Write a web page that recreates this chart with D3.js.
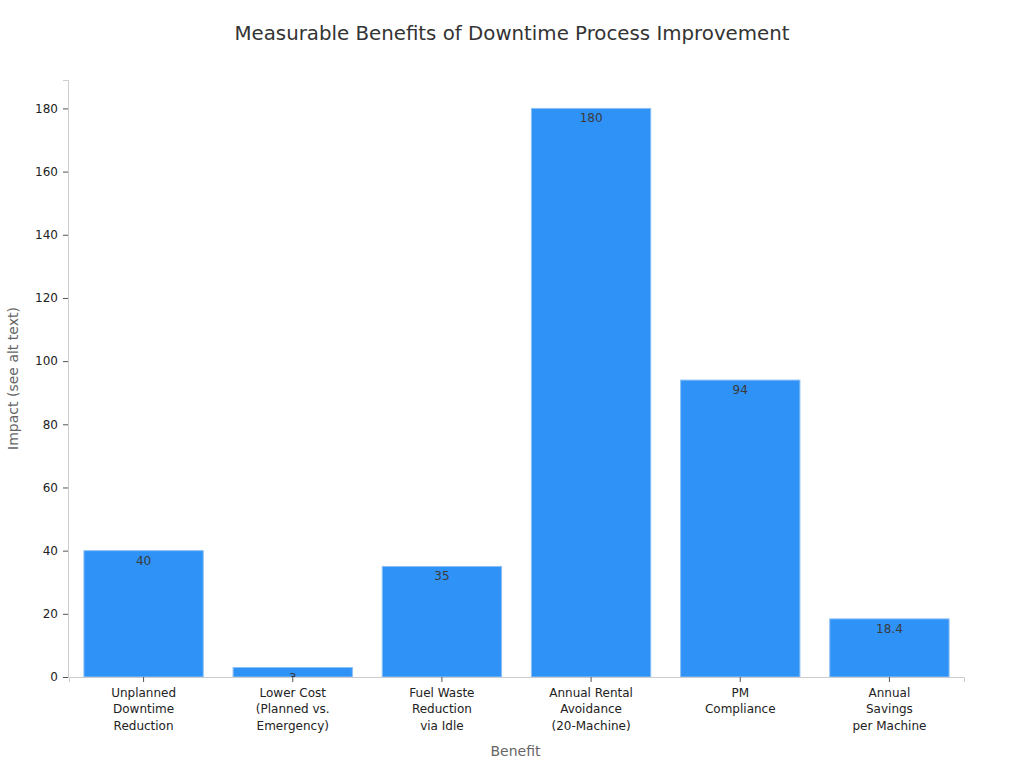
<!DOCTYPE html>
<html>
<head>
<meta charset="utf-8">
<script src="https://cdn.jsdelivr.net/npm/d3@7"></script>
<style>
    body { margin: 0; background: #fff; font-family: "DejaVu Sans", sans-serif; }
    .axis path, .axis line { stroke: #ccc; }
    .axis .tick line { stroke: #555; }
    .axis text { fill: #222; font-size: 12px; font-family: "DejaVu Sans", sans-serif; }
</style>
</head>
<body>
<svg id="chart" width="1024" height="768"></svg>
<script>
var CATEGORIES = [
    ["Unplanned", "Downtime", "Reduction"],
    ["Lower Cost", "(Planned vs.", "Emergency)"],
    ["Fuel Waste", "Reduction", "via Idle"],
    ["Annual Rental", "Avoidance", "(20-Machine)"],
    ["PM", "Compliance"],
    ["Annual", "Savings", "per Machine"]
];
var VALUES = [40, 3, 35, 180, 94, 18.4];
var VALUE_LABELS = ["40", "3", "35", "180", "94", "18.4"];
var Y_TICKS = [0, 20, 40, 60, 80, 100, 120, 140, 160, 180];

var svg = d3.select("#chart");
var margin = {top: 80, right: 61, bottom: 91, left: 68};
var width = 1024 - margin.left - margin.right;
var height = 768 - margin.top - margin.bottom;
var g = svg.append("g").attr("transform", "translate(" + margin.left + "," + margin.top + ")");

var x = d3.scaleBand().domain(d3.range(VALUES.length)).range([1, width + 1]).paddingInner(0.2).paddingOuter(0.1);
var y = d3.scaleLinear().domain([0, 189]).range([height, 0]);

/* title */
svg.append("text")
    .attr("x", 512).attr("y", 40)
    .attr("text-anchor", "middle")
    .style("font-size", "19.8px")
    .attr("fill", "#333")
    .text("Measurable Benefits of Downtime Process Improvement");

/* bars - labels are clipped to their bar */
var defs = svg.append("defs");
VALUES.forEach(function(v, i){
    defs.append("clipPath").attr("id", "clip" + i)
        .append("rect")
        .attr("x", x(i)).attr("y", y(v))
        .attr("width", x.bandwidth()).attr("height", height - y(v));
});

g.selectAll(".bar").data(VALUES).enter()
    .append("rect")
    .classed("bar", true)
    .attr("x", function(d, i){ return x(i); })
    .attr("y", function(d){ return y(d); })
    .attr("width", x.bandwidth())
    .attr("height", function(d){ return height - y(d); })
    .attr("fill", "#2f92f7")
    .attr("stroke", "#8cc0f5")
    .attr("stroke-width", 1);

g.selectAll(".valueLabel").data(VALUES).enter()
    .append("text")
    .classed("valueLabel", true)
    .attr("clip-path", function(d, i){ return "url(#clip" + i + ")"; })
    .attr("x", function(d, i){ return x(i) + x.bandwidth()/2; })
    .attr("y", function(d){ return y(d) + 14; })
    .attr("text-anchor", "middle")
    .attr("fill", "#3a3a3a")
    .style("font-size", "12px")
    .text(function(d, i){ return VALUE_LABELS[i]; });

/* axes */
var xAxis = g.append("g")
    .attr("class", "axis axis--x")
    .attr("transform", "translate(0," + height + ")")
    .call(d3.axisBottom(x).tickSizeOuter(0).tickSize(5).tickFormat(""));

xAxis.selectAll(".tick").each(function(d){
    var t = d3.select(this).append("text")
        .attr("y", 20)
        .attr("text-anchor", "middle");
    CATEGORIES[d].forEach(function(line, j){
        t.append("tspan").attr("x", 0).attr("dy", j === 0 ? 0 : "1.37em").text(line);
    });
});

g.append("g")
    .attr("class", "axis axis--y")
    .call(d3.axisLeft(y).tickValues(Y_TICKS).tickSizeOuter(0).tickSize(5).tickPadding(5));

svg.append("text")
    .attr("transform", "translate(18," + (margin.top + height/2) + ") rotate(-90)")
    .attr("text-anchor", "middle")
    .attr("fill", "#666")
    .style("font-size", "14px")
    .text("Impact (see alt text)");

svg.append("text")
    .attr("x", margin.left + width/2)
    .attr("y", 756)
    .attr("text-anchor", "middle")
    .attr("fill", "#666")
    .style("font-size", "14px")
    .text("Benefit");
</script>
</body>
</html>
